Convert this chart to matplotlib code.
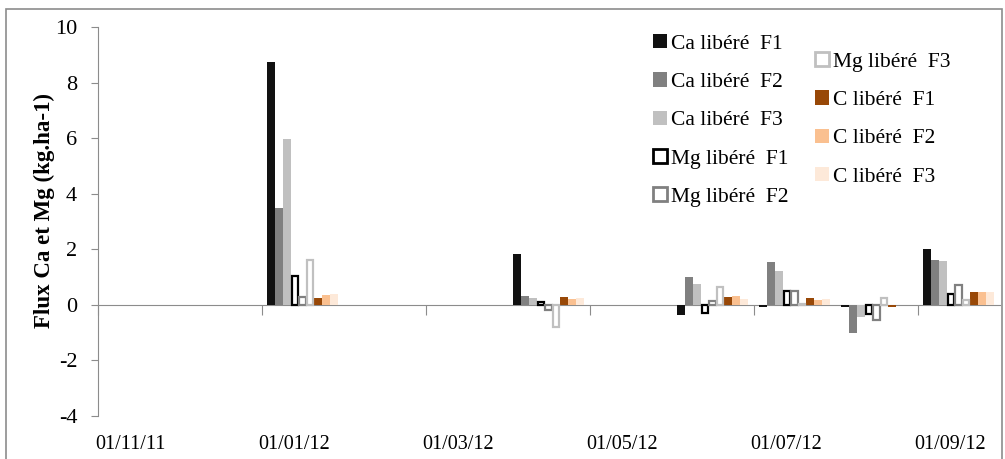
import numpy as np
import matplotlib
matplotlib.use('Agg')
import matplotlib.pyplot as plt
from matplotlib.patches import Rectangle, Patch

plt.rcParams['font.family'] = ['Liberation Serif', 'DejaVu Serif']
plt.rcParams['axes.unicode_minus'] = False

# months shown on the axis (Nov 2011 .. Sep 2012), one slot per month
months = ['11/11', '12/11', '01/12', '02/12', '03/12', '04/12', '05/12',
          '06/12', '07/12', '08/12', '09/12']
tick_labels = ['01/11/11', '01/01/12', '01/03/12', '01/05/12', '01/07/12', '01/09/12']

# sampling months that have data
sample_months = ['01/12', '04/12', '06/12', '07/12', '08/12', '09/12']

ca_f1 = [8.75, 1.83, -0.38, -0.08, -0.08, 2.02]
ca_f2 = [3.5, 0.33, 1.0, 1.53, -1.0, 1.6]
ca_f3 = [5.97, 0.25, 0.75, 1.22, -0.45, 1.58]
mg_f1 = [1.05, 0.1, -0.3, 0.5, -0.33, 0.4]
mg_f2 = [0.3, -0.2, 0.15, 0.5, -0.55, 0.72]
mg_f3 = [1.6, -0.8, 0.65, 0.03, 0.25, 0.18]
c_f1 = [0.25, 0.27, 0.3, 0.25, -0.08, 0.47]
c_f2 = [0.35, 0.2, 0.32, 0.18, 0.0, 0.45]
c_f3 = [0.38, 0.25, 0.2, 0.2, 0.0, 0.45]

series = [
    ('Ca libéré  F1', ca_f1, '#111111', None),
    ('Ca libéré  F2', ca_f2, '#808080', None),
    ('Ca libéré  F3', ca_f3, '#c0c0c0', None),
    ('Mg libéré  F1', mg_f1, 'white', '#000000'),
    ('Mg libéré  F2', mg_f2, 'white', '#808080'),
    ('Mg libéré  F3', mg_f3, 'white', '#c0c0c0'),
    ('C libéré  F1', c_f1, '#984807', None),
    ('C libéré  F2', c_f2, '#fac090', None),
    ('C libéré  F3', c_f3, '#fde9d9', None),
]

fig = plt.figure(figsize=(10.05, 4.59), dpi=100)
ax = fig.add_axes([98 / 1005, 1 - 416 / 459, 902 / 1005, 389 / 459])

# chart area border
fig.patches.append(Rectangle((6 / 1005, -0.1), 996 / 1005, 1.1 - 9 / 459,
                             transform=fig.transFigure, fill=False,
                             edgecolor='#8c8c8c', linewidth=1.2))

x = np.array([months.index(m) for m in sample_months]) + 0.5
w = 0.096
n = len(series)
handles = []
for i, (label, vals, fc, ec) in enumerate(series):
    pos = x + (i - (n - 1) / 2) * w - 0.006
    if ec is None:
        ax.bar(pos, vals, width=w, color=fc, edgecolor='none', zorder=2)
        handles.append(Patch(facecolor=fc, edgecolor='none', label=label))
    else:
        ax.bar(pos, vals, width=w * 0.78, color=fc, edgecolor=ec, linewidth=1.6, zorder=3)
        handles.append(Patch(facecolor='white', edgecolor=ec, linewidth=2.0, label=label))

ax.set_xlim(0, len(months))
ax.set_ylim(-4, 10)
ax.set_yticks(np.arange(-4, 11, 2))
ax.tick_params(axis='y', direction='out', length=5, color='#8c8c8c', labelsize=16, pad=10)
for s in ['top', 'right', 'bottom']:
    ax.spines[s].set_visible(False)
ax.spines['left'].set_color('#8c8c8c')

# labels at the bottom of the plot
ax.set_xticks(np.arange(0, len(months), 2) + 0.39)
ax.set_xticklabels(tick_labels)
ax.tick_params(axis='x', length=0, labelsize=14.5, pad=14)

# zero axis line with tick marks every two months
sec = ax.secondary_xaxis(4 / 14)
sec.set_xticks(np.arange(0, len(months) + 1, 2))
sec.set_xticklabels([])
sec.tick_params(axis='x', direction='out', length=7, color='#8c8c8c')
sec.spines['bottom'].set_color('#8c8c8c')

ax.set_ylabel('Flux Ca et Mg (kg.ha-1)', fontsize=16.5, fontweight='bold')
ax.yaxis.set_label_coords(-0.048, 0.527)

leg_kw = dict(frameon=False, fontsize=15.5, handlelength=0.65, handleheight=0.65,
              handletextpad=0.2, labelspacing=0.86, borderpad=0, borderaxespad=0)
leg1 = fig.legend(handles=handles[:5], loc='upper left',
                  bbox_to_anchor=(653 / 1005, 1 - 34 / 459), **leg_kw)
fig.legend(handles=handles[5:], loc='upper left',
           bbox_to_anchor=(815 / 1005, 1 - 52 / 459), **leg_kw)

fig.savefig('out.png', dpi=100)
